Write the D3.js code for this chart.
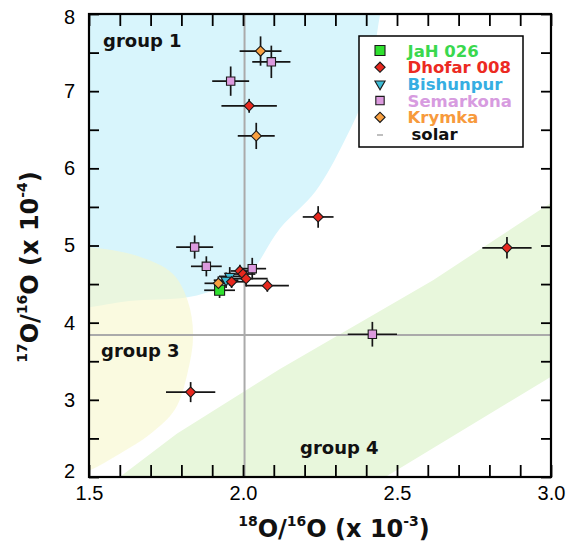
<!DOCTYPE html>
<html>
<head>
<meta charset="utf-8">
<script src="https://cdn.jsdelivr.net/npm/d3@7"></script>
<style>
  body { margin: 0; background: #fff; }
  svg { display: block; }
</style>
</head>
<body>
<script>
(function() {
    "use strict";

    // x = 18O/16O (x 10^-3), y = 17O/16O (x 10^-4), errors are half-lengths of the bars
    var jahX = [1.924];
    var jahY = [4.42];
    var jahXErr = [0.05];
    var jahYErr = [0.10];

    var dhofarX = [2.02, 2.244, 2.857, 1.83, 1.99, 2.00, 2.01, 2.079, 1.963];
    var dhofarY = [6.81, 5.37, 4.97, 3.10, 4.67, 4.63, 4.57, 4.48, 4.53];
    var dhofarXErr = [0.09, 0.05, 0.08, 0.08, 0.03, 0.04, 0.07, 0.07, 0.04];
    var dhofarYErr = [0.09, 0.14, 0.14, 0.13, 0.08, 0.08, 0.10, 0.08, 0.08];

    var bishunpurX = [1.957, 1.945];
    var bishunpurY = [4.60, 4.55];
    var bishunpurXErr = [0.035, 0.04];
    var bishunpurYErr = [0.12, 0.10];

    var semarkonaX = [2.092, 1.96, 1.843, 1.881, 2.03, 2.42];
    var semarkonaY = [7.38, 7.13, 4.98, 4.73, 4.70, 3.85];
    var semarkonaXErr = [0.062, 0.06, 0.06, 0.05, 0.045, 0.08];
    var semarkonaYErr = [0.21, 0.19, 0.15, 0.13, 0.14, 0.16];

    var krymkaX = [2.057, 2.043, 1.92];
    var krymkaY = [7.52, 6.42, 4.51];
    var krymkaXErr = [0.068, 0.06, 0.045];
    var krymkaYErr = [0.19, 0.17, 0.09];

    var solarX = 2.005;
    var solarY = 3.84;

    // approximate outlines of the grain groups, in data units
    var group1Shape = [[1.45, 8.1], [1.45, 4.19], [1.5, 4.20], [1.63, 4.28], [1.82, 4.33], [1.93, 4.45],
        [2.01, 4.58], [2.12, 5.22], [2.235, 5.70], [2.33, 6.36], [2.40, 7.00], [2.43, 7.62], [2.45, 8.05], [2.46, 8.1]];
    var group3Shape = [[1.40, 5.0], [1.5, 4.98], [1.66, 4.86], [1.77, 4.64], [1.82, 4.29], [1.838, 3.84],
        [1.82, 3.35], [1.78, 2.88], [1.70, 2.56], [1.60, 2.30], [1.5, 2.08], [1.40, 1.95]];
    var group4Shape = [[1.45, 1.55], [1.60, 2.0], [1.785, 2.56], [2.12, 3.40], [2.617, 4.55], [2.964, 5.46],
        [3.05, 5.68], [3.05, 3.42], [3.0, 3.30], [2.5, 2.09], [2.42, 1.9]];

    var xTicks = d3.range(15, 31).map(function(d) { return d / 10; });
    var xLabels = [1.5, 2.0, 2.5, 3.0];
    var yTicks = d3.range(4, 17).map(function(d) { return d / 2; });
    var yLabels = [2, 3, 4, 5, 6, 7, 8];

    var series = [
        {name: "Semarkona", color: "#dc9ade", text: "#d79be0", shape: d3.symbolSquare, size: 70, rot: 0, xs: semarkonaX, ys: semarkonaY, xe: semarkonaXErr, ye: semarkonaYErr},
        {name: "JaH 026", color: "#2fe02f", text: "#3ad84e", shape: d3.symbolSquare, size: 100, rot: 0, xs: jahX, ys: jahY, xe: jahXErr, ye: jahYErr},
        {name: "Bishunpur", color: "#3dbcd6", text: "#36aee2", shape: d3.symbolTriangle, size: 45, rot: 180, xs: bishunpurX, ys: bishunpurY, xe: bishunpurXErr, ye: bishunpurYErr},
        {name: "Krymka", color: "#f9a040", text: "#f79a3c", shape: d3.symbolSquare, size: 52, rot: 45, xs: krymkaX, ys: krymkaY, xe: krymkaXErr, ye: krymkaYErr},
        {name: "Dhofar 008", color: "#e8281e", text: "#ec2a22", shape: d3.symbolSquare, size: 52, rot: 45, xs: dhofarX, ys: dhofarY, xe: dhofarXErr, ye: dhofarYErr}
    ];
    var legendOrder = ["JaH 026", "Dhofar 008", "Bishunpur", "Semarkona", "Krymka"];

    var W = 571, H = 553;
    var x = d3.scaleLinear().domain([1.5, 3.0]).range([89, 551]);
    var y = d3.scaleLinear().domain([2, 8]).range([477, 14]);

    var svg = d3.select("body").append("svg").attr("width", W).attr("height", H);
    svg.append("defs").append("clipPath").attr("id", "plotClip")
        .append("rect").attr("x", 89).attr("y", 14).attr("width", 462).attr("height", 463);

    //shaded group regions
    var shade = svg.append("g").attr("clip-path", "url(#plotClip)");
    var line = d3.line().x(function(d) { return x(d[0]); }).y(function(d) { return y(d[1]); });
    shade.append("path").attr("d", line.curve(d3.curveCatmullRom)(group1Shape) + "Z").attr("fill", "#d8f5fc");
    shade.append("path").attr("d", line.curve(d3.curveLinear)(group4Shape) + "Z").attr("fill", "#e8f7dc");
    shade.append("path").attr("d", line.curve(d3.curveCatmullRom)(group3Shape) + "Z")
        .attr("fill", "#f7f7cc").attr("fill-opacity", 0.6);

    //solar reference lines
    svg.append("line").attr("x1", x(solarX)).attr("x2", x(solarX)).attr("y1", y(2)).attr("y2", y(8))
        .attr("stroke", "#aaa").attr("stroke-width", 2);
    svg.append("line").attr("x1", x(1.5)).attr("x2", x(3.0)).attr("y1", y(solarY)).attr("y2", y(solarY))
        .attr("stroke", "#aaa").attr("stroke-width", 2);

    //error bars first, markers on top
    var points = [];
    series.forEach(function(s) {
        s.xs.forEach(function(v, i) {
            points.push({s: s, x: v, y: s.ys[i], xe: s.xe[i], ye: s.ye[i]});
        });
    });
    var bars = svg.append("g").attr("stroke", "#151515").attr("stroke-width", 1.7);
    points.forEach(function(p) {
        bars.append("line").attr("x1", x(p.x - p.xe)).attr("x2", x(p.x + p.xe)).attr("y1", y(p.y)).attr("y2", y(p.y));
        bars.append("line").attr("x1", x(p.x)).attr("x2", x(p.x)).attr("y1", y(p.y - p.ye)).attr("y2", y(p.y + p.ye));
    });
    svg.append("g").selectAll("path")
        .data(points)
        .enter()
        .append("path")
        .attr("d", function(p) { return d3.symbol().type(p.s.shape).size(p.s.size)(); })
        .attr("transform", function(p) { return "translate(" + x(p.x) + "," + y(p.y) + ") rotate(" + p.s.rot + ")"; })
        .attr("fill", function(p) { return p.s.color; })
        .attr("stroke", "#1a1a1a")
        .attr("stroke-width", 1.1);

    //group labels
    var boldFont = "'DejaVu Sans', sans-serif";
    [["group 1", 103, 47], ["group 3", 101, 357], ["group 4", 300, 454]].forEach(function(g) {
        svg.append("text").attr("x", g[1]).attr("y", g[2]).text(g[0])
            .attr("font-family", boldFont).attr("font-weight", "bold").attr("font-size", 18).attr("fill", "#111");
    });

    //axes with inward ticks on all four sides
    var tickFont = "'Liberation Sans', Arial, sans-serif";
    function xFmt(d) { return xLabels.some(function(v) { return Math.abs(v - d) < 1e-6; }) ? d3.format(".1f")(d) : ""; }
    function yFmt(d) { return yLabels.indexOf(d) >= 0 ? String(d) : ""; }
    var axes = [
        svg.append("g").attr("transform", "translate(0,477)")
            .call(d3.axisBottom(x).tickValues(xTicks).tickSize(-12).tickPadding(9).tickFormat(xFmt)),
        svg.append("g").attr("transform", "translate(0,14)")
            .call(d3.axisTop(x).tickValues(xTicks).tickSize(-12).tickFormat("")),
        svg.append("g").attr("transform", "translate(89,0)")
            .call(d3.axisLeft(y).tickValues(yTicks).tickSize(-10).tickPadding(14).tickFormat(yFmt)),
        svg.append("g").attr("transform", "translate(551,0)")
            .call(d3.axisRight(y).tickValues(yTicks).tickSize(-10).tickFormat(""))
    ];
    axes.forEach(function(a) {
        a.select(".domain").remove();
        a.selectAll(".tick line").attr("stroke", "#000").attr("stroke-width", 1.8);
        a.selectAll("text").attr("font-family", tickFont).attr("font-size", 20).attr("fill", "#000");
    });
    //nudge the end labels of the y axis inward like the original
    axes[2].selectAll(".tick text").attr("dy", function(d) { return d === 8 ? "0.47em" : d === 2 ? "0em" : "0.32em"; });

    svg.append("rect").attr("x", 89).attr("y", 14).attr("width", 462).attr("height", 463)
        .attr("fill", "none").attr("stroke", "#000").attr("stroke-width", 2.2);

    //axis titles with superscripts
    function richText(g, parts) {
        var t = g.append("text").attr("font-family", boldFont).attr("font-weight", "bold").attr("fill", "#111")
            .attr("text-anchor", "middle");
        var raised = false;
        parts.forEach(function(p) {
            var sup = p[1] === 1;
            var dy = sup && !raised ? -11 : (!sup && raised ? 11 : 0);
            raised = sup;
            t.append("tspan").attr("dy", dy).attr("font-size", sup ? 14 : 24).text(p[0]);
        });
        return t;
    }
    richText(svg.append("g").attr("transform", "translate(334,537)"),
        [["18", 1], ["O/", 0], ["16", 1], ["O (x 10", 0], ["-3", 1], [")", 0]]);
    richText(svg.append("g").attr("transform", "translate(38,267) rotate(-90)"),
        [["17", 1], ["O/", 0], ["16", 1], ["O (x 10", 0], ["-4", 1], [")", 0]]);

    //legend
    var legend = svg.append("g");
    legend.append("rect").attr("x", 359).attr("y", 36).attr("width", 164).attr("height", 111)
        .attr("fill", "#fff").attr("stroke", "#000").attr("stroke-width", 1.5);
    legendOrder.forEach(function(name, i) {
        var s = series.filter(function(d) { return d.name === name; })[0];
        var base = 56.5 + i * 16.7;
        legend.append("path")
            .attr("d", d3.symbol().type(s.shape).size(s.size)())
            .attr("transform", "translate(380," + (base - 6) + ") rotate(" + s.rot + ")")
            .attr("fill", s.color).attr("stroke", "#1a1a1a").attr("stroke-width", 1.1);
        legend.append("text").attr("x", 407.5).attr("y", base).text(name)
            .attr("font-family", boldFont).attr("font-weight", "bold").attr("font-size", 16.5).attr("fill", s.text);
    });
    var solarBase = 56.5 + 5 * 16.7;
    legend.append("line").attr("x1", 377).attr("x2", 383).attr("y1", solarBase - 5).attr("y2", solarBase - 5)
        .attr("stroke", "#aaa").attr("stroke-width", 1.5);
    legend.append("text").attr("x", 411.5).attr("y", solarBase).text("solar")
        .attr("font-family", boldFont).attr("font-weight", "bold").attr("font-size", 16.5).attr("fill", "#111");
}());
</script>
</body>
</html>
